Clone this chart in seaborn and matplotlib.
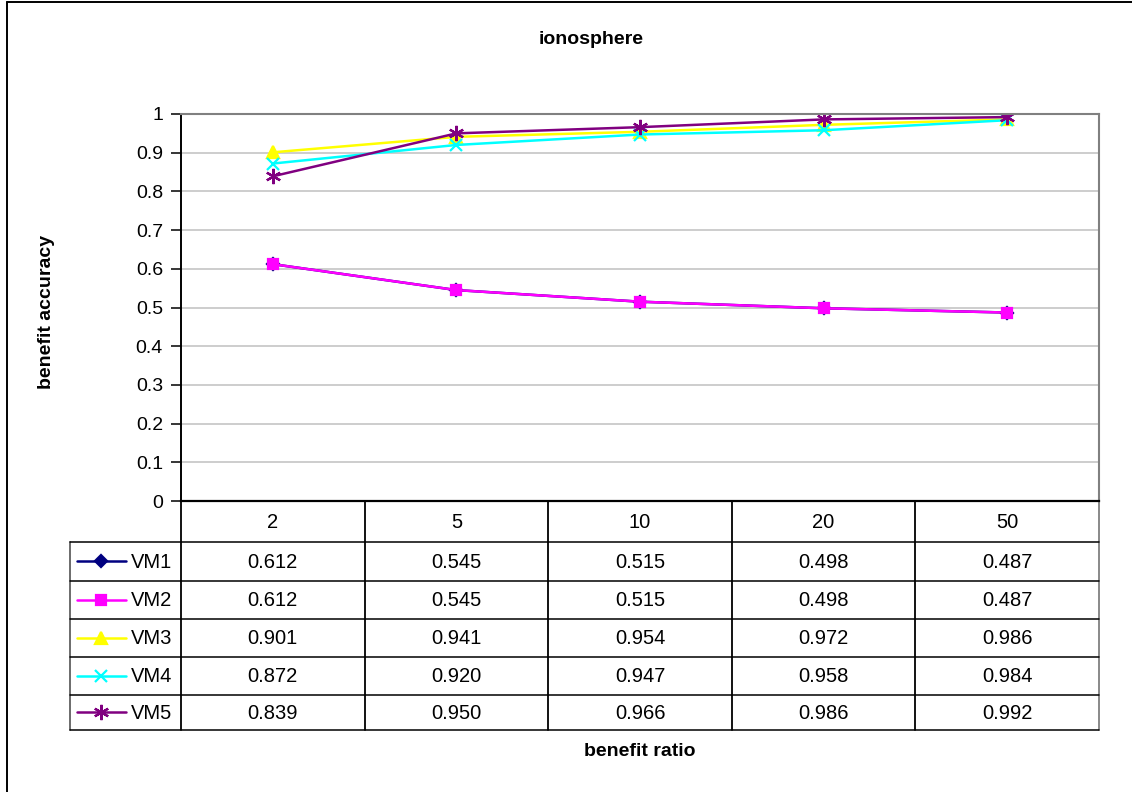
import matplotlib
matplotlib.use("Agg")
import matplotlib.pyplot as plt
from matplotlib.lines import Line2D
import numpy as np
import pandas as pd
import seaborn as sns

# Benefit ratios (categories) and accuracy per voting method
ratios = ["2", "5", "10", "20", "50"]
vm1 = [0.612, 0.545, 0.515, 0.498, 0.487]
vm2 = [0.612, 0.545, 0.515, 0.498, 0.487]
vm3 = [0.901, 0.941, 0.954, 0.972, 0.986]
vm4 = [0.872, 0.920, 0.947, 0.958, 0.984]
vm5 = [0.839, 0.950, 0.966, 0.986, 0.992]
series_names = ["VM1", "VM2", "VM3", "VM4", "VM5"]
y_ticks = [0, 0.1, 0.2, 0.3, 0.4, 0.5, 0.6, 0.7, 0.8, 0.9, 1]

series_values = [vm1, vm2, vm3, vm4, vm5]
colors = ["#000080", "#FF00FF", "#FFFF00", "#00FFFF", "#800080"]
markers = ["D", "s", "^", "x", (6, 2, 0)]
msizes = [6, 7, 8, 9, 11]

sns.set_theme(style="white")
plt.rcParams["font.family"] = ["Liberation Sans", "DejaVu Sans"]
plt.rcParams["text.color"] = "black"
plt.rcParams["axes.labelcolor"] = "black"
plt.rcParams["xtick.color"] = "black"
plt.rcParams["ytick.color"] = "black"

W, H = 1132, 792
fig = plt.figure(figsize=(W / 100, H / 100), dpi=100)

# page layer in pixel coordinates for frame and data table
bg = fig.add_axes([0, 0, 1, 1], zorder=0)
bg.set_xlim(0, W)
bg.set_ylim(H, 0)
bg.axis("off")

left, right, top, bottom = 181, 1099, 114, 501
ax = fig.add_axes([left / W, 1 - bottom / H, (right - left) / W, (bottom - top) / H], zorder=2)
ax.patch.set_alpha(0)

xpos = np.arange(len(ratios))
df = pd.DataFrame({
    "pos": np.tile(xpos, len(series_names)),
    "acc": np.concatenate(series_values),
    "method": np.repeat(series_names, len(ratios)),
})

for name, col, mk, ms in zip(series_names, colors, markers, msizes):
    sub = df[df["method"] == name]
    sns.lineplot(data=sub, x="pos", y="acc", color=col, marker=mk, markersize=ms,
                 markeredgecolor=col, markeredgewidth=1.6, linewidth=1.8, ax=ax,
                 legend=False)

ax.set_xlim(-0.5, len(ratios) - 0.5)
ax.set_ylim(0, 1)
ax.set_yticks(y_ticks)
ax.set_yticklabels([f"{t:g}" for t in y_ticks], fontsize=14)
ax.set_xticks([])
ax.set_xlabel("")
ax.set_ylabel("")
ax.grid(axis="y", color="#C0C0C0", linewidth=1.1)
ax.set_axisbelow(True)
ax.tick_params(axis="y", direction="out", length=7, width=1.1, color="black", pad=6,
               left=True, labelcolor="black")
for side in ["top", "right"]:
    ax.spines[side].set_color("#808080")
    ax.spines[side].set_linewidth(1.5)
ax.spines["left"].set_color("black")
ax.spines["left"].set_linewidth(1.4)
ax.spines["bottom"].set_color("black")
ax.spines["bottom"].set_linewidth(1.6)

# outer chart frame
bg.plot([7, 7], [2, H + 5], color="black", lw=1.4)
bg.plot([7, W + 5], [2, 2], color="black", lw=1.4)

# titles
fig.text(591 / W, 1 - 40 / H, "ionosphere", ha="center", va="center",
         fontsize=14, fontweight="bold", color="black")
fig.text(640 / W, 1 - 751 / H, "benefit ratio", ha="center", va="center",
         fontsize=14, fontweight="bold", color="black")
fig.text(47 / W, 1 - 312 / H, "benefit accuracy", ha="center", va="center",
         rotation=90, fontsize=14, fontweight="bold", color="black")

# data table below the axes
ncol = len(ratios)
colw = (right - left) / ncol
col_edges = [left + i * colw for i in range(ncol + 1)]
row_edges = [501, 541.5, 581, 619, 656.5, 694.5, 730]
leg_left = 70

for i, x in enumerate(col_edges):
    c = "#808080" if i == ncol else "black"
    bg.plot([x, x], [row_edges[0], row_edges[-1]], color=c, lw=1.3)
bg.plot([leg_left, leg_left], [row_edges[1], row_edges[-1]], color="#606060", lw=1.3)
for y in row_edges[1:]:
    bg.plot([leg_left, right], [y, y], color="black", lw=1.1)

for i, lab in enumerate(ratios):
    cx = (col_edges[i] + col_edges[i + 1]) / 2
    bg.text(cx, (row_edges[0] + row_edges[1]) / 2 + 1, lab, ha="center", va="center",
            fontsize=14.5, color="black")

for r, (name, vals, col, mk, ms) in enumerate(zip(series_names, series_values, colors,
                                                   markers, msizes)):
    cy = (row_edges[r + 1] + row_edges[r + 2]) / 2
    bg.add_line(Line2D([77, 126], [cy, cy], color=col, lw=1.8))
    bg.add_line(Line2D([101], [cy], color=col, marker=mk, markersize=ms,
                       markeredgecolor=col, markeredgewidth=1.6, linestyle="none"))
    bg.text(131, cy + 1, name, ha="left", va="center", fontsize=14.5, color="black")
    for i, v in enumerate(vals):
        cx = (col_edges[i] + col_edges[i + 1]) / 2
        bg.text(cx, cy + 1, f"{v:.3f}", ha="center", va="center", fontsize=14.5,
                color="black")

fig.savefig("out.png", dpi=100, facecolor="white")
